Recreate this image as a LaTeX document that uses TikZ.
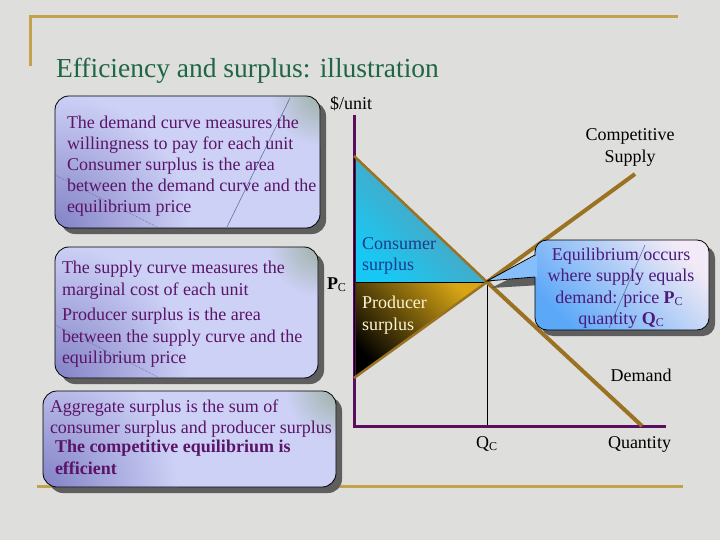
\documentclass[tikz,border=0pt]{standalone}
\usepackage{fontspec}
\setmainfont{Liberation Serif}
\usetikzlibrary{shadows}
\definecolor{bg}{HTML}{DEDEDC}
\definecolor{gold}{HTML}{C4A24C}
\definecolor{titlegreen}{HTML}{1E6644}
\definecolor{boxtext}{HTML}{5A1468}
\definecolor{boxlight}{HTML}{CDD1F6}
\definecolor{boxdark}{HTML}{8282C6}
\definecolor{boxgreen}{HTML}{9EB2A8}
\definecolor{shadowgray}{HTML}{5E5E5E}
\definecolor{axispurple}{HTML}{5A0E5E}
\definecolor{curve}{HTML}{9A7222}
\definecolor{csL}{HTML}{18C8F4}
\definecolor{csR}{HTML}{6A92A4}
\definecolor{psgold}{HTML}{D8A614}
\definecolor{eqblue}{HTML}{5CA8F8}
\definecolor{eqpale}{HTML}{F2EAF6}
\definecolor{cstext}{HTML}{1C3A8E}
\definecolor{pstext}{HTML}{FFF4D2}
\definecolor{eqtext}{HTML}{4C1A7A}
\definecolor{gloss}{HTML}{4A5898}
\pgfdeclareverticalshading{eqshade}{100bp}{color(0bp)=(eqblue); color(25bp)=(eqblue); color(75bp)=(eqpale); color(100bp)=(eqpale)}
\newcommand\subC{\raisebox{-2.5pt}{\fontsize{12}{12}\selectfont C}}
\newcommand\glossbox[1]{%
  \begin{scope}
    \clip[rounded corners=14pt] (#1.south west) rectangle (#1.north east);
    \shade[inner color=boxdark, outer color=boxlight] (#1.south west) circle (135pt);
    \shade[inner color=boxgreen, outer color=boxlight] (#1.north east) circle (50pt);
  \end{scope}
  \draw[black, line width=0.8pt, rounded corners=14pt] (#1.south west) rectangle (#1.north east);}
\begin{document}
\begin{tikzpicture}[x=1pt,y=-1pt,
  every node/.style={inner sep=0pt, outer sep=0pt},
  infobox/.style={rectangle, rounded corners=14pt, fill=boxlight,
     drop shadow={shadow xshift=6pt, shadow yshift=-6pt, fill=shadowgray, opacity=1},
     anchor=north west},
  bodytext/.style={font=\fontsize{18}{21}\selectfont, text=boxtext, anchor=base west},
  eqline/.style={font=\fontsize{18}{21}\selectfont, text=eqtext, anchor=base},
  lbl/.style={font=\fontsize{18}{21}\selectfont, text=black},
  goldline/.style={draw=gold, line width=3pt},
  axisline/.style={draw=axispurple, line width=3pt},
  curveline/.style={draw=curve, line width=4pt},
  curvethin/.style={draw=curve, line width=2.5pt},
  glossline/.style={draw=gloss, line width=0.6pt, opacity=0.8},
  thinblack/.style={draw=black, line width=0.8pt}]
\useasboundingbox (0,0) rectangle (720,540);
\fill[bg] (0,0) rectangle (720,540);
% frame lines
\draw[goldline] (29,17) -- (678,17);
\draw[goldline] (30,16) -- (30,66);
\draw[goldline] (37,486) -- (683,486);
% title
\node[font=\fontsize{27.5}{32}\selectfont, text=titlegreen, anchor=base west] (title) at (56,78) {Efficiency and surplus: illustration};

% demand box
\node[infobox, minimum width=265pt, minimum height=132pt] (demandbox) at (55,96) {};
\glossbox{demandbox}
\draw[glossline] (290,98) -- (227,227);
\draw[glossline, densely dotted] (55,175) -- (157,227);
\node[bodytext] (d1) at (67,129) {The demand curve measures the};
\node[bodytext] (d2) at (67,150) {willingness to pay for each unit};
\node[bodytext] (d3) at (67,171) {Consumer surplus is the area};
\node[bodytext] (d4) at (67,192) {between the demand curve and the};
\node[bodytext] (d5) at (67,212) {equilibrium price};

% supply box
\node[infobox, minimum width=263pt, minimum height=131pt] (supplybox) at (55,247) {};
\glossbox{supplybox}
\draw[glossline, densely dotted] (55,325) -- (158,377);
\node[bodytext] (s1) at (62,273) {The supply curve measures the};
\node[bodytext] (s2) at (62,295) {marginal cost of each unit};
\node[bodytext] (s3) at (62,320) {Producer surplus is the area};
\node[bodytext] (s4) at (62,342) {between the supply curve and the};
\node[bodytext] (s5) at (62,363) {equilibrium price};

% aggregate box
\node[infobox, minimum width=293pt, minimum height=96pt] (aggbox) at (43,391) {};
\glossbox{aggbox}
\node[bodytext] (a1) at (50,412) {Aggregate surplus is the sum of};
\node[bodytext] (a2) at (50,433) {consumer surplus and producer surplus};
\node[bodytext] (a3) at (55,452) {\textbf{The competitive equilibrium is}};
\node[bodytext] (a4) at (55,474) {\textbf{efficient}};

% graph coordinates
\coordinate (O) at (354,426);
\coordinate (ytop) at (354,115);
\coordinate (xend) at (666,426);
\coordinate (dA) at (354,156);
\coordinate (E) at (487,282);
\coordinate (dB) at (642,426);
\coordinate (sA) at (354,378);
\coordinate (sB) at (635,174);
\coordinate (Pc) at (354,282);
\coordinate (Qc) at (487,426);

% surpluses
\shade[bottom color=csL, top color=csR, shading angle=-45] (dA) -- (Pc) -- (E) -- cycle;
\shade[bottom color=black, top color=psgold, shading angle=-45] (Pc) -- (sA) -- (E) -- cycle;
\draw[thinblack] (Pc) -- (E);
\draw[thinblack] (E) -- (Qc);
% axes
\draw[axisline] (ytop) -- (O) -- (xend);
\draw[thinblack] (dA) -- (sA);
% curves
\draw[curvethin] (dA) -- (E);
\draw[curveline] (E) -- (dB);
\draw[curvethin] (sA) -- (E);
\draw[curveline] (E) -- (sB);

% callout
\fill[shadowgray] (541,263) -- (491,288) -- (541,285) -- cycle;
\fill[shadowgray, rounded corners=12pt] (541,246) rectangle (715,336);
\shadedraw[shading=eqshade, shading angle=-45, draw=black, line width=0.8pt, rounded corners=12pt] (535,240) rectangle (709,330);
\fill[fill=eqblue!75!white] (537,255) -- (487,281) -- (537,277) -- cycle;
\draw[thinblack] (535,255) -- (487,281) -- (535,277);
\draw[glossline] (645,245) -- (609,328);
\node[eqline] (e1) at (621,260) {Equilibrium occurs};
\node[eqline] (e2) at (621,281) {where supply equals};
\node[eqline] (e3) at (619,303) {demand: price \textbf{P}\subC};
\node[eqline] (e4) at (621,324) {quantity \textbf{Q}\subC};

% labels
\node[lbl, anchor=base] (unit) at (351,110) {\$/unit};
\node[lbl, anchor=base] (comp) at (630,141) {Competitive};
\node[lbl, anchor=base] (supp) at (630,163) {Supply};
\node[lbl, anchor=base west, text=cstext] (cs1) at (362,249) {Consumer};
\node[lbl, anchor=base west, text=cstext] (cs2) at (362,270) {surplus};
\node[lbl, anchor=base west, text=pstext] (ps1) at (362,308) {Producer};
\node[lbl, anchor=base west, text=pstext] (ps2) at (362,330) {surplus};
\node[lbl, anchor=base west] (pclbl) at (327,289) {\textbf{P}\subC};
\node[lbl, anchor=base] (dem) at (641,381) {Demand};
\node[lbl, anchor=base west] (qclbl) at (476,448) {Q\subC};
\node[lbl, anchor=base west] (qty) at (608,448) {Quantity};
\end{tikzpicture}
\end{document}
